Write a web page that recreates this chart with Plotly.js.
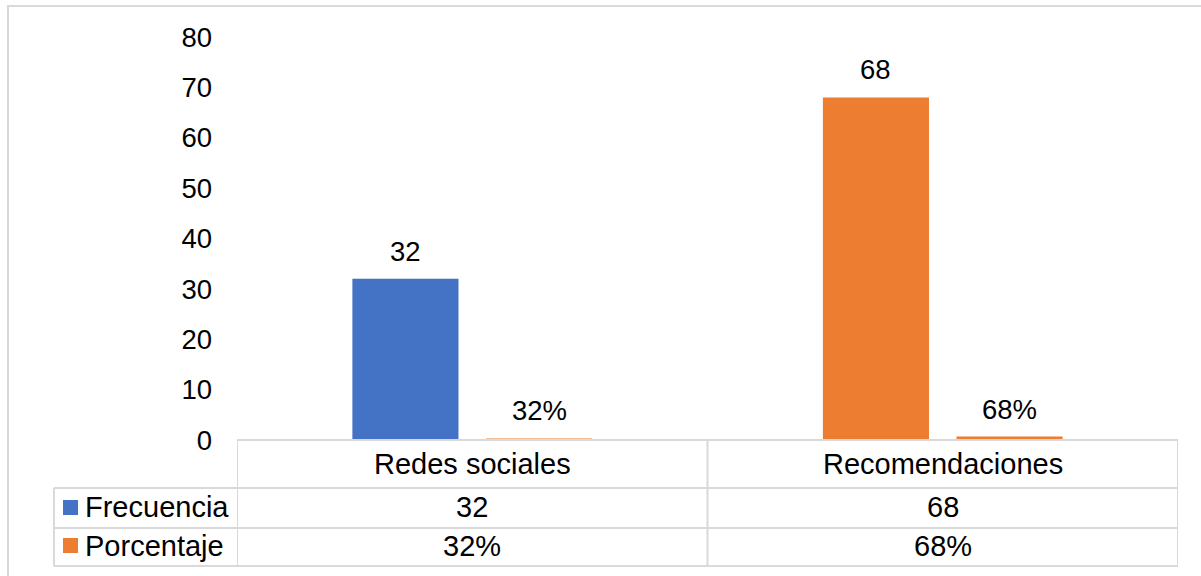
<!DOCTYPE html>
<html>
<head>
<meta charset="utf-8">
<script src="https://cdn.plot.ly/plotly-3.0.1.min.js"></script>
<style>html,body{margin:0;padding:0;background:#fff;}#chart{width:1201px;height:576px;}</style>
</head>
<body>
<div id="chart"></div>
<script>
const categories = ['Redes sociales', 'Recomendaciones'];
const frecuencia = [32, 68];
const porcentaje = [0.32, 0.68];
const frecuenciaLabels = ['32', '68'];
const porcentajeLabels = ['32%', '68%'];
const seriesNames = ['Frecuencia', 'Porcentaje'];
const yTicks = [0, 10, 20, 30, 40, 50, 60, 70, 80];

const BLUE = '#4472C4', ORANGE = '#ED7D31', GRID = '#D9D9D9';
const FONT = 'Liberation Sans, Arial, sans-serif';
const FS = 27.5;
const FT = 29;

// plot area in pixels: x 237..1178, y 37..440
const L = 237, R = 1178, T = 37, B = 440;
const px = x => (x - L) / (R - L);
const py = y => (B - y) / (B - T);

const traces = [
  { type: 'bar', name: seriesNames[0], x: categories, y: frecuencia,
    marker: { color: [BLUE, ORANGE] }, hoverinfo: 'none' },
  { type: 'bar', name: seriesNames[1], x: categories, y: porcentaje,
    marker: { color: ORANGE }, hoverinfo: 'none' }
];

const annotations = [];
const shapes = [];
const lineStyle = { color: GRID, width: 2 };
const OFF = 67;

// bar value labels
categories.forEach((c, i) => {
  annotations.push({ x: c, y: frecuencia[i], xref: 'x', yref: 'y', xshift: -OFF, yshift: 10,
    xanchor: 'center', yanchor: 'bottom', text: frecuenciaLabels[i], showarrow: false, font: { family: FONT, size: FS, color: '#000' } });
  annotations.push({ x: c, y: porcentaje[i], xref: 'x', yref: 'y', xshift: OFF, yshift: 10,
    xanchor: 'center', yanchor: 'bottom', text: porcentajeLabels[i], showarrow: false, font: { family: FONT, size: FS, color: '#000' } });
});

// table rows
const rowHeader = py(464), rowF = py(507), rowP = py(546);
const cell = (x, y, xref, text, xanchor) => annotations.push({ x: x, y: y, xref: xref, yref: 'paper',
  xanchor: xanchor || 'center', yanchor: 'middle', text: text, showarrow: false, font: { family: FONT, size: FT, color: '#000' } });
categories.forEach((c, i) => {
  cell(c, rowHeader, 'x', c);
  cell(c, rowF, 'x', frecuenciaLabels[i]);
  cell(c, rowP, 'x', porcentajeLabels[i]);
});
cell(px(83), rowF, 'paper', seriesNames[0], 'left');
cell(px(83), rowP, 'paper', seriesNames[1], 'left');

// legend keys
shapes.push({ type: 'rect', xref: 'paper', yref: 'paper', x0: px(63), x1: px(78), y0: py(500), y1: py(515),
  fillcolor: BLUE, line: { width: 0 } });
shapes.push({ type: 'rect', xref: 'paper', yref: 'paper', x0: px(63), x1: px(78), y0: py(538), y1: py(553),
  fillcolor: ORANGE, line: { width: 0 } });

// table grid
shapes.push({ type: 'line', xref: 'paper', yref: 'paper', x0: 0, x1: 1, y0: py(440), y1: py(440), line: lineStyle });
[488, 528, 566].forEach(y => shapes.push({ type: 'line', xref: 'paper', yref: 'paper', x0: px(54), x1: 1, y0: py(y), y1: py(y), line: lineStyle }));
shapes.push({ type: 'line', xref: 'paper', yref: 'paper', x0: px(54), x1: px(54), y0: py(488), y1: py(566), line: lineStyle });
[-0.5, 0.5, 1.5].forEach(x => shapes.push({ type: 'line', xref: 'x', yref: 'paper', x0: x, x1: x, y0: py(440), y1: py(566), line: lineStyle }));

// outer chart border (left and top visible)
shapes.push({ type: 'rect', xref: 'paper', yref: 'paper', x0: px(8), x1: px(1260), y0: py(640), y1: py(6), line: lineStyle });

const layout = {
  width: 1201, height: 576,
  margin: { l: L, r: 1201 - R, t: T, b: 576 - B, pad: 0 },
  paper_bgcolor: '#fff', plot_bgcolor: '#fff',
  showlegend: false,
  barmode: 'group', bargap: 0.432, bargroupgap: 0.206,
  font: { family: FONT, size: FS, color: '#000' },
  xaxis: { type: 'category', range: [-0.5, 1.5], showticklabels: false, showgrid: false, zeroline: false, showline: false, ticks: '' },
  yaxis: { range: [0, 80], tickvals: yTicks, ticktext: yTicks.map(String), showgrid: false, zeroline: false, showline: false,
    ticks: '', ticklabelstandoff: 24, tickfont: { family: FONT, size: FS, color: '#000' } },
  shapes: shapes,
  annotations: annotations
};

Plotly.newPlot('chart', traces, layout, { staticPlot: true, displayModeBar: false });
</script>
</body>
</html>
